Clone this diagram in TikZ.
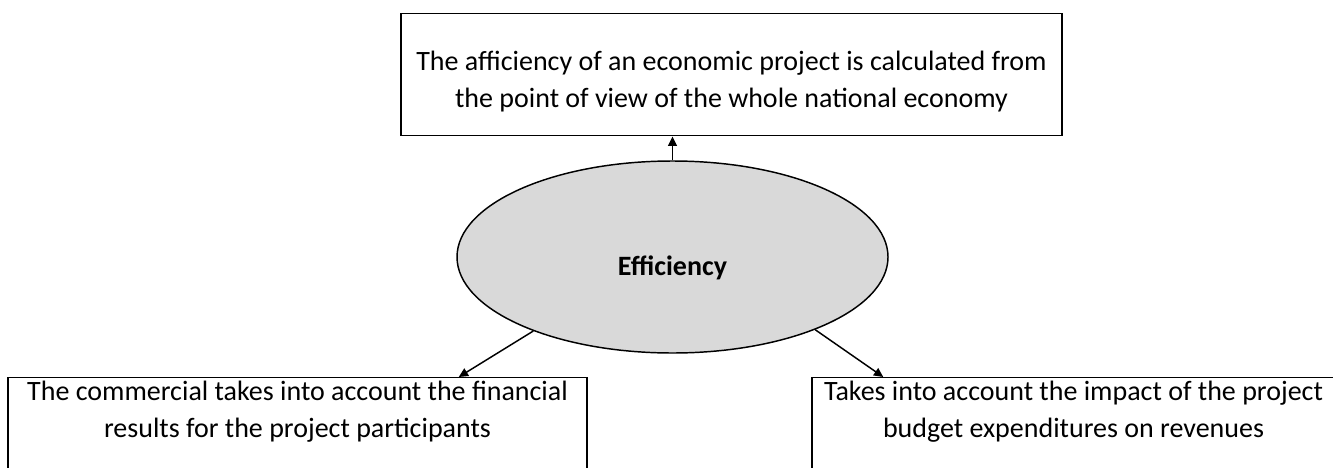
\documentclass[tikz,border=0pt]{standalone}
\usepackage{fontspec}
\setmainfont{Carlito}
\usetikzlibrary{shapes.geometric, arrows.meta}
\definecolor{corefill}{HTML}{D9D9D9}

\begin{document}
\begin{tikzpicture}[x=0.75pt, y=-0.75pt,
		infobox/.style={draw, line width=1.1pt, align=center, anchor=north, inner sep=0pt, font=\fontsize{21}{27.75}\selectfont},
		core/.style={ellipse, draw, fill=corefill, line width=1.1pt, minimum width=323.25pt, minimum height=144pt, inner sep=0pt, font=\fontsize{21}{25}\selectfont\bfseries},
		link/.style={-{Triangle[length=7pt, width=6.5pt]}, line width=1.1pt}]
		\clip (0,0) rectangle (1333,467);
		
		\node[infobox, minimum width=495.75pt, text height=70.5pt, text depth=21pt] (whole) at (731.5,13) {The afficiency of an economic project is calculated from\\the point of view of the whole national economy};
		\node[core] (eff) at (672.5,257) {\raisebox{-14pt}[0pt][0pt]{Efficiency}};
		\node[infobox, minimum width=434.25pt, text height=44.6pt, text depth=40pt] (comm) at (297.5,377) {The commercial takes into account the financial\\results for the project participants};
		\node[infobox, minimum width=392.25pt, text height=44.6pt, text depth=40pt] (budg) at (1073.5,377) {Takes into account the impact of the project\\budget expenditures on revenues};
		
		\draw[link] (eff.north) -- (eff.north |- whole.south);
		\draw[link] (eff.208) -- ([xshift=-96.75pt]comm.north east);
		\draw[link] (eff.333) -- ([xshift=54pt]budg.north west);
	\end{tikzpicture}
\end{document}
